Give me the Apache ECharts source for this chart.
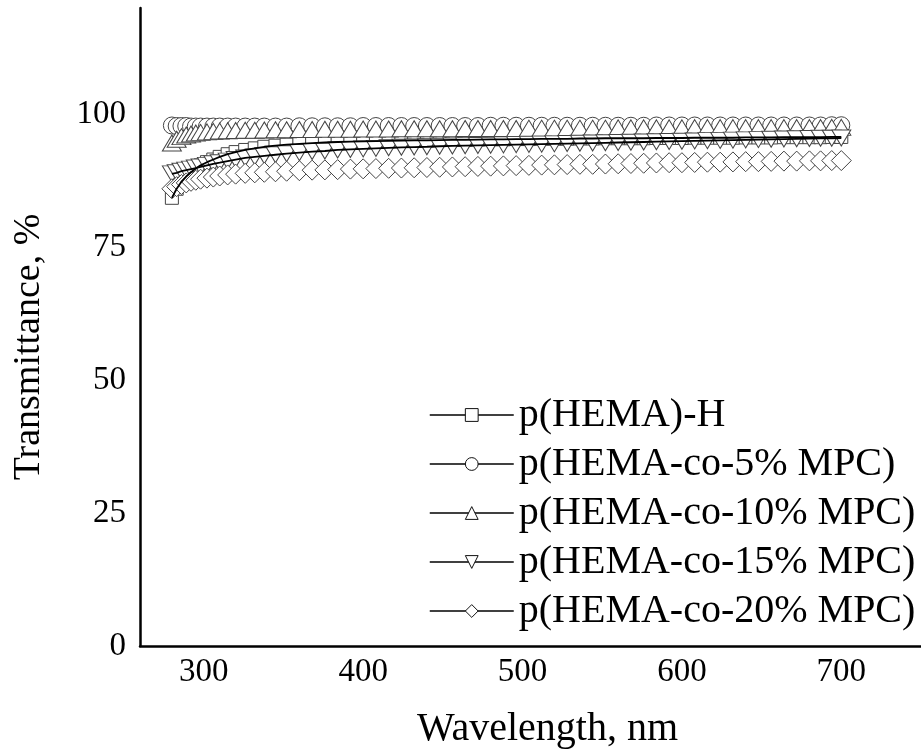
<!DOCTYPE html>
<html>
<head>
<meta charset="utf-8">
<script src="https://cdn.jsdelivr.net/npm/echarts@6/dist/echarts.min.js"></script>
<style>
html,body{margin:0;padding:0;background:#fff;}
#chart{width:921px;height:756px;}
</style>
</head>
<body>
<div id="chart"></div>
<script>
// Wavelength (nm)
const wavelength = [280,283,286,289,292,295,298,302,306,310,315,320,326,332,338,345,352,360,368,376,384,392,
  400,408,416,424,432,440,448,456,464,472,480,488,496,504,512,520,528,536,544,552,560,568,576,584,592,600,608,616,624,632,640,648,656,664,672,680,
  687,694,700];

// Transmittance (%)
const hemaH = [84.3,86.0,87.3,88.3,89.1,89.8,90.4,91.0,91.5,92.0,92.5,92.9,93.3,93.6,93.9,94.1,94.3,94.45,94.6,94.7,94.8,94.85,
  94.9,94.95,95.0,95.05,95.1,95.1,95.15,95.2,95.2,95.25,95.3,95.3,95.35,95.35,95.4,95.4,95.4,95.45,95.45,95.5,95.5,95.5,95.5,95.55,95.55,95.55,95.6,95.6,95.6,95.6,95.65,95.65,95.65,95.7,95.7,95.7,
  95.7,95.75,95.75];
const mpc5 = [97.9,97.8,97.8,97.8,97.7,97.7,97.7,97.7,97.7,97.7,97.7,97.7,97.7,97.7,97.7,97.7,97.7,97.75,97.75,97.75,97.75,97.75,
  97.8,97.8,97.8,97.8,97.8,97.8,97.8,97.8,97.8,97.8,97.85,97.85,97.85,97.85,97.85,97.85,97.85,97.85,97.85,97.85,97.85,97.85,97.85,97.9,97.9,97.9,97.9,97.9,97.9,97.9,97.9,97.9,97.9,97.9,97.9,97.9,
  97.9,97.95,97.95];
const mpc10 = [94.6,95.3,95.8,96.1,96.3,96.5,96.6,96.7,96.8,96.85,96.9,96.95,97.0,97.0,97.05,97.1,97.1,97.15,97.15,97.2,97.2,97.2,
  97.25,97.25,97.25,97.3,97.3,97.3,97.3,97.3,97.35,97.35,97.35,97.35,97.35,97.4,97.4,97.4,97.4,97.4,97.4,97.4,97.45,97.45,97.45,97.45,97.45,97.45,97.5,97.5,97.5,97.5,97.5,97.5,97.5,97.5,97.5,97.5,
  97.5,97.55,97.55];
const mpc15 = [88.8,89.0,89.3,89.5,89.7,89.9,90.1,90.4,90.7,90.9,91.2,91.5,91.8,92.0,92.2,92.4,92.6,92.8,93.0,93.1,93.3,93.4,
  93.5,93.6,93.7,93.8,93.85,93.9,94.0,94.05,94.1,94.15,94.2,94.25,94.3,94.35,94.4,94.45,94.5,94.55,94.6,94.65,94.7,94.75,94.8,94.85,94.9,94.95,95.0,95.05,95.1,95.15,95.2,95.25,95.3,95.35,95.4,95.45,
  95.5,95.5,95.55];
const mpc20 = [86.0,86.4,86.8,87.1,87.4,87.6,87.8,88.0,88.2,88.4,88.6,88.75,88.9,89.0,89.1,89.2,89.3,89.4,89.5,89.55,89.6,89.7,
  89.75,89.8,89.85,89.9,89.95,90.0,90.05,90.1,90.15,90.2,90.25,90.3,90.35,90.4,90.45,90.5,90.55,90.6,90.6,90.65,90.7,90.75,90.8,90.85,90.9,90.9,90.95,91.0,91.0,91.05,91.1,91.1,91.15,91.2,91.2,91.25,
  91.25,91.3,91.3];

const seriesNames = ['p(HEMA)-H','p(HEMA-co-5% MPC)','p(HEMA-co-10% MPC)','p(HEMA-co-15% MPC)','p(HEMA-co-20% MPC)'];
const xTicks = [300,400,500,600,700];
const yTicks = [0,25,50,75,100];

const FONT = "'Liberation Serif','Times New Roman',serif";
const pair = arr => wavelength.map((w,i)=>[w,arr[i]]);

const symbolSeries = (name, arr, symbol, size, rotate) => ({
  name, type:'line', data: pair(arr), symbol, symbolSize: size, symbolRotate: rotate||0,
  showAllSymbol: true,
  itemStyle:{color:'#fff', borderColor:'#444', borderWidth:1},
  lineStyle:{color:'#000', width:1.3},
  emphasis:{disabled:true}, silent:true, animation:false
});
const overlayLine = (name, arr) => ({
  name, type:'line', data: pair(arr), symbol:'none', z:5,
  lineStyle:{color:'#000', width:1.8}, silent:true, animation:false
});

const chart = echarts.init(document.getElementById('chart'));
chart.setOption({
  backgroundColor:'#fff',
  animation:false,
  grid:{left:140, right:0, top:8, bottom:110, containLabel:false},
  xAxis:{
    type:'value', min:260, max:750,
    name:'Wavelength, nm', nameLocation:'middle', nameGap:63,
    nameTextStyle:{fontFamily:FONT, fontSize:40, color:'#000', padding:[0,0,0,34]},
    axisLine:{lineStyle:{color:'#000', width:2.5}},
    axisTick:{show:false},
    splitLine:{show:false},
    axisLabel:{customValues:xTicks, fontFamily:FONT, fontSize:33, color:'#000', margin:10}
  },
  yAxis:{
    type:'value', min:0, max:120,
    name:'Transmittance, %', nameLocation:'middle', nameGap:92,
    nameTextStyle:{fontFamily:FONT, fontSize:38, color:'#000', padding:[0,40,0,0]},
    axisLine:{lineStyle:{color:'#000', width:2.5}},
    axisTick:{show:false},
    splitLine:{show:false},
    axisLabel:{customValues:yTicks, fontFamily:FONT, fontSize:33, color:'#000', margin:14}
  },
  legend:{
    orient:'vertical', left:424, top:389,
    itemWidth:84, itemHeight:16, itemGap:7,
    lineStyle:{width:1.5, color:'#000'},
    itemStyle:{borderColor:'#111', borderWidth:1, color:'#fff'},
    textStyle:{fontFamily:FONT, fontSize:40, color:'#000', lineHeight:42},
    data:seriesNames, selectedMode:false
  },
  series:[
    symbolSeries(seriesNames[0], hemaH, 'rect', 13),
    symbolSeries(seriesNames[1], mpc5, 'circle', 17),
    symbolSeries(seriesNames[2], mpc10, 'triangle', [19,16]),
    symbolSeries(seriesNames[3], mpc15, 'triangle', [19,16], 180),
    symbolSeries(seriesNames[4], mpc20, 'diamond', 20),
    overlayLine('line-hemaH', hemaH),
    overlayLine('line-mpc15', mpc15)
  ]
});
</script>
</body>
</html>
